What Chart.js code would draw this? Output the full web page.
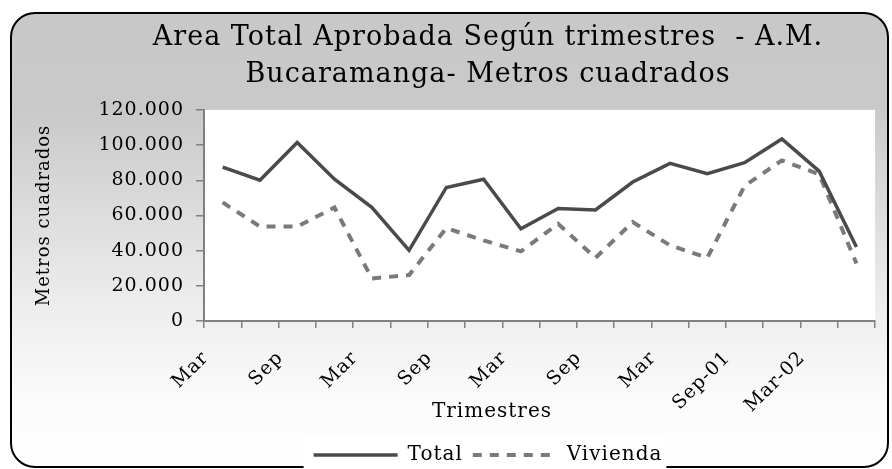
<!DOCTYPE html>
<html>
<head>
<meta charset="utf-8">
<title>Area Total Aprobada</title>
<script src="https://cdn.jsdelivr.net/npm/chart.js@4.4.0/dist/chart.umd.min.js"></script>
<style>
    html, body { margin: 0; padding: 0; background: #fff; }
    #wrap { width: 892px; height: 469px; }
</style>
</head>
<body>
<div id="wrap"><canvas id="areaChart"></canvas></div>
<script>
// quarters, Mar-98 .. Jun-02
const quarters = [
    'Mar-98', 'Jun-98', 'Sep-98', 'Dic-98',
    'Mar-99', 'Jun-99', 'Sep-99', 'Dic-99',
    'Mar-00', 'Jun-00', 'Sep-00', 'Dic-00',
    'Mar-01', 'Jun-01', 'Sep-01', 'Dic-01',
    'Mar-02', 'Jun-02'
];
// what the axis actually shows (every second quarter)
const tickLabels = [
    'Mar', '', 'Sep', '', 'Mar', '', 'Sep', '', 'Mar', '',
    'Sep', '', 'Mar', '', 'Sep-01', '', 'Mar-02', ''
];
const total = [
    87500, 80000, 101500, 80600, 64600, 40200, 75900, 80600, 52400,
    64000, 63100, 79000, 89600, 83800, 90000, 103500, 85200, 42100
];
const vivienda = [
    67400, 53700, 53700, 64500, 24200, 26100, 52800, 45800, 39600,
    55200, 35900, 56200, 43000, 35900, 76800, 91300, 83400, 32700
];
const yMax = 120000;
const yStep = 20000;

const FONT = '"DejaVu Serif", serif';
const fmt = (v) => String(v).replace(/\B(?=(\d{3})+(?!\d))/g, '.');

// the original face is wider than DejaVu Serif, open the text up a little
const spacing = (chart) => { chart.ctx.letterSpacing = '1px'; };

// background frame, white plot area, legend box and axis titles
const framePlugin = {
    id: 'frame',
    beforeLayout: spacing,
    beforeDraw(chart) {
        spacing(chart);
        const { ctx, chartArea: a } = chart;
        ctx.save();
        const g = ctx.createLinearGradient(0, 13, 0, 467);
        g.addColorStop(0, '#c8c8c8');
        g.addColorStop(0.21, '#c9c9c9');
        g.addColorStop(0.63, '#ececec');
        g.addColorStop(0.85, '#fbfbfb');
        g.addColorStop(1, '#ffffff');
        ctx.beginPath();
        ctx.roundRect(11, 13, 877, 454, 24);
        ctx.fillStyle = g;
        ctx.fill();
        ctx.lineWidth = 2;
        ctx.strokeStyle = '#000';
        ctx.stroke();

        ctx.fillStyle = '#fff';
        ctx.fillRect(a.left, a.top, a.right - a.left, a.bottom - a.top);

        const hb = chart.legend.legendHitBoxes || [];
        if (hb.length) {
            const l = Math.min(...hb.map(b => b.left));
            const r = Math.max(...hb.map(b => b.left + b.width));
            const t = Math.min(...hb.map(b => b.top));
            const h = Math.max(...hb.map(b => b.height));
            ctx.fillRect(l - 10, t - 8, r - l + 14, h + 16);
        }
        ctx.restore();
    },
    afterDraw(chart) {
        const { ctx, chartArea: a } = chart;
        ctx.save();
        ctx.fillStyle = '#000';
        ctx.textAlign = 'center';
        ctx.textBaseline = 'middle';
        ctx.font = '20px ' + FONT;
        ctx.fillText('Trimestres', 492, 412);
        ctx.translate(44, (a.top + a.bottom) / 2);
        ctx.rotate(-Math.PI / 2);
        ctx.font = '18px ' + FONT;
        ctx.fillText('Metros cuadrados', 0, 0);
        ctx.restore();
    }
};

document.addEventListener('DOMContentLoaded', () => {
    const ctx = document.getElementById('areaChart');
    new Chart(ctx, {
        type: 'line',
        data: {
            labels: quarters,
            datasets: [
                {
                    label: 'Total',
                    data: total,
                    borderColor: '#4a4a4a',
                    backgroundColor: '#4a4a4a',
                    borderWidth: 3.5,
                    pointRadius: 0,
                    tension: 0
                },
                {
                    label: 'Vivienda',
                    data: vivienda,
                    borderColor: '#7a7a7a',
                    backgroundColor: '#7a7a7a',
                    borderWidth: 4,
                    borderDash: [9, 8],
                    pointRadius: 0,
                    tension: 0
                }
            ]
        },
        options: {
            responsive: true,
            maintainAspectRatio: false,
            animation: false,
            devicePixelRatio: 1,
            layout: {
                padding: { top: 20, left: 100, right: 16, bottom: -6 }
            },
            plugins: {
                title: {
                    display: true,
                    text: [
                        'Area Total Aprobada Según trimestres  - A.M.',
                        'Bucaramanga- Metros cuadrados'
                    ],
                    color: '#000',
                    font: { family: FONT, size: 27, weight: 'normal', lineHeight: 1.35 },
                    padding: { top: 0, bottom: 17 }
                },
                legend: {
                    position: 'bottom',
                    labels: {
                        usePointStyle: true,
                        pointStyle: 'line',
                        pointStyleWidth: 84,
                        color: '#000',
                        font: { family: FONT, size: 20 },
                        padding: 10,
                        generateLabels: (chart) => chart.data.datasets.map((ds, i) => ({
                            text: ds.label,
                            datasetIndex: i,
                            fillStyle: ds.borderColor,
                            strokeStyle: ds.borderColor,
                            fontColor: '#000',
                            lineWidth: ds.borderWidth,
                            lineDash: ds.borderDash || [],
                            pointStyle: 'line',
                            hidden: false
                        }))
                    }
                },
                tooltip: { enabled: false }
            },
            scales: {
                x: {
                    offset: true,
                    grid: {
                        offset: true,
                        drawOnChartArea: false,
                        drawTicks: true,
                        tickLength: 7,
                        color: '#808080',
                        lineWidth: 1.5
                    },
                    border: { display: true, color: '#808080', width: 2 },
                    ticks: {
                        autoSkip: false,
                        minRotation: 45,
                        maxRotation: 45,
                        padding: 19,
                        labelOffset: -17,
                        color: '#000',
                        font: { family: FONT, size: 19 },
                        callback: (v, i) => tickLabels[i]
                    },
                    afterFit: (scale) => { scale.height = 114; }
                },
                y: {
                    min: 0,
                    max: yMax,
                    grid: {
                        drawOnChartArea: false,
                        drawTicks: true,
                        tickLength: 8,
                        color: '#808080',
                        lineWidth: 1.5
                    },
                    border: { display: true, color: '#808080', width: 2 },
                    ticks: {
                        stepSize: yStep,
                        padding: 12,
                        color: '#000',
                        font: { family: FONT, size: 19 },
                        callback: (v) => fmt(v)
                    },
                    afterFit: (scale) => { scale.width = 104; }
                }
            }
        },
        plugins: [framePlugin]
    });
});
</script>
</body>
</html>
